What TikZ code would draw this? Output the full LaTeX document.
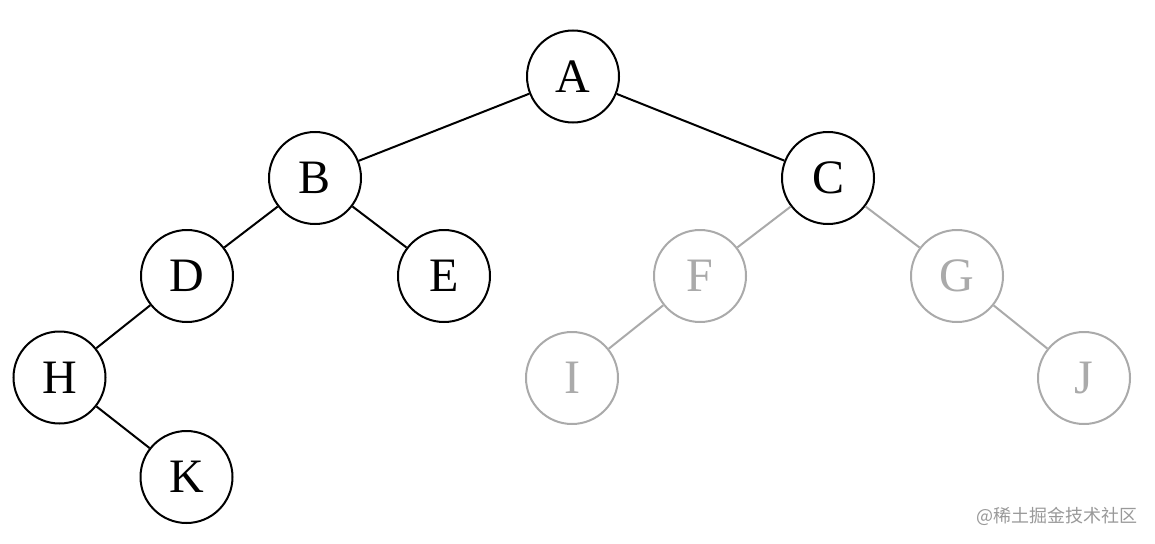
\documentclass[tikz,border=0pt]{standalone}
\usepackage{fontspec}
\setmainfont{Liberation Serif}
\newfontfamily\cjk{Noto Sans CJK SC}
\begin{document}
\begin{tikzpicture}[x=1pt,y=-1pt,
  tn/.style={circle,draw,line width=2pt,minimum size=92pt,inner sep=0pt,font=\fontsize{48}{48}\selectfont,fill=white},
  fadednode/.style={tn,draw=fadegray,text=fadegray},
  edge/.style={line width=2pt},
  fadededge/.style={line width=2pt,draw=fadegray}]
\definecolor{fadegray}{HTML}{AAAAAA}
\useasboundingbox (0,0) rectangle (1155,543);
\node[tn] (A) at (573,76.5) {A};
\node[tn] (B) at (315,178) {B};
\node[tn] (C) at (828,178) {C};
\node[tn] (D) at (187,276) {D};
\node[tn] (E) at (444,276) {E};
\node[fadednode] (F) at (700,276) {F};
\node[fadednode] (G) at (957,276) {G};
\node[tn] (H) at (59.5,377.5) {H};
\node[fadednode] (I) at (572,378) {I};
\node[fadednode] (J) at (1084,378) {J};
\node[tn] (K) at (186.5,477) {K};
\draw[edge] (A) -- (B);
\draw[edge] (A) -- (C);
\draw[edge] (B) -- (D);
\draw[edge] (B) -- (E);
\draw[edge] (D) -- (H);
\draw[edge] (H) -- (K);
\draw[fadededge] (C) -- (F);
\draw[fadededge] (C) -- (G);
\draw[fadededge] (F) -- (I);
\draw[fadededge] (G) -- (J);
\node[text=black!40,font=\cjk\fontsize{18}{18}\selectfont,inner sep=0pt] (wm) at (1057,516) {@稀土掘金技术社区};
\end{tikzpicture}
\end{document}
